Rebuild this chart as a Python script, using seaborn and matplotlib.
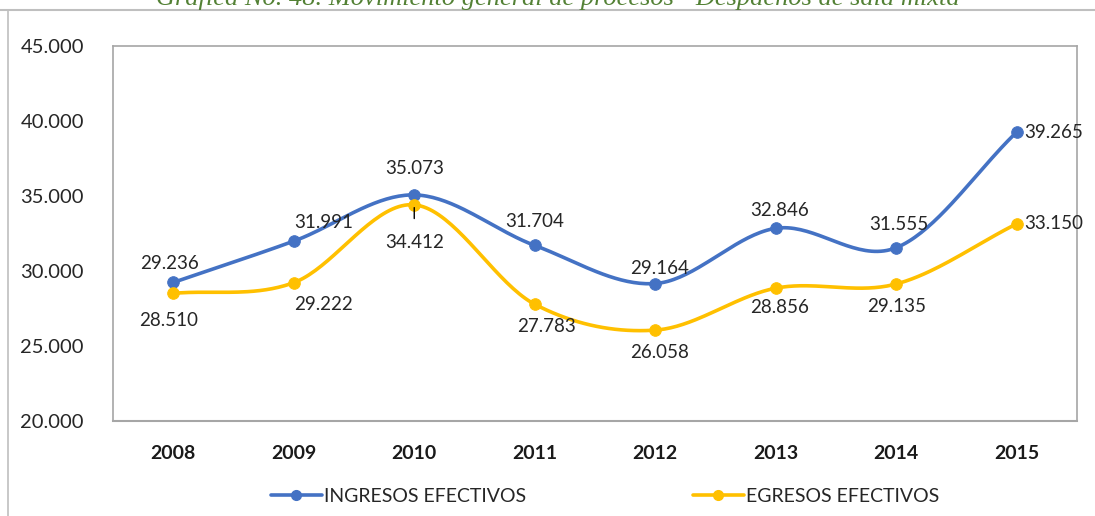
import numpy as np
import pandas as pd
import matplotlib
matplotlib.use("Agg")
import matplotlib.pyplot as plt
import seaborn as sns
from matplotlib.lines import Line2D

years = ["2008", "2009", "2010", "2011", "2012", "2013", "2014", "2015"]
ingresos = [29236, 31991, 35073, 31704, 29164, 32846, 31555, 39265]
egresos = [28510, 29222, 34412, 27783, 26058, 28856, 29135, 33150]
ing_labels = ["29.236", "31.991", "35.073", "31.704", "29.164", "32.846", "31.555", "39.265"]
egr_labels = ["28.510", "29.222", "34.412", "27.783", "26.058", "28.856", "29.135", "33.150"]
y_ticks = [20000, 25000, 30000, 35000, 40000, 45000]
y_ticklabels = ["20.000", "25.000", "30.000", "35.000", "40.000", "45.000"]

# label offsets in pixels (dx, dy), positive dy = up
ing_off = [(-4, 19), (30, 19), (0, 26), (0, 24), (4, 15), (4, 18), (3, 23), (7, 0)]
egr_off = [(-5, -27), (30, -22), (0, -38), (12, -22), (4, -22), (4, -19), (0, -23), (7, 0)]

BLUE = "#4472C4"
GOLD = "#FFC000"
GRAY = "#A6A6A6"


def catmull(xs, ys, n=40):
    # smooth curve through the points, like Excel "smoothed line"
    xs = np.asarray(xs, float)
    ys = np.asarray(ys, float)
    px = np.concatenate([[2 * xs[0] - xs[1]], xs, [2 * xs[-1] - xs[-2]]])
    py = np.concatenate([[2 * ys[0] - ys[1]], ys, [2 * ys[-1] - ys[-2]]])
    ox, oy = [], []
    t = np.linspace(0, 1, n)
    for i in range(1, len(px) - 2):
        for arr, out in ((px, ox), (py, oy)):
            p0, p1, p2, p3 = arr[i - 1], arr[i], arr[i + 1], arr[i + 2]
            seg = 0.5 * ((2 * p1) + (-p0 + p2) * t + (2 * p0 - 5 * p1 + 4 * p2 - p3) * t ** 2
                         + (-p0 + 3 * p1 - 3 * p2 + p3) * t ** 3)
            out.extend(seg)
    return np.array(ox), np.array(oy)


sns.set_style("white")
plt.rcParams["font.family"] = ["Lato", "DejaVu Sans"]

fig = plt.figure(figsize=(10.95, 5.16), dpi=100)
ax = fig.add_axes([113 / 1095, 95 / 516, 964 / 1095, 375 / 516])

x = np.arange(len(years))
for vals, color in ((ingresos, BLUE), (egresos, GOLD)):
    sx, sy = catmull(x, vals)
    sm = pd.DataFrame({"x": sx, "y": sy})
    sns.lineplot(data=sm, x="x", y="y", color=color, lw=2.6, sort=False, ax=ax, zorder=2)
    pts = pd.DataFrame({"x": x, "y": vals})
    sns.scatterplot(data=pts, x="x", y="y", color=color, s=70, edgecolor=color, ax=ax, zorder=3)

for i in range(len(years)):
    ha = "left" if i == len(years) - 1 else "center"
    dx, dy = ing_off[i]
    ax.annotate(ing_labels[i], (x[i], ingresos[i]), xytext=(dx, dy), textcoords="offset pixels",
                ha=ha, va="center", fontsize=13.5, color="#262626")
    dx, dy = egr_off[i]
    if i == 2:
        ax.annotate(egr_labels[i], (x[i], egresos[i]), xytext=(dx, dy), textcoords="offset pixels",
                    ha=ha, va="center", fontsize=13.5, color="#262626",
                    arrowprops=dict(arrowstyle="-", color="black", lw=1, shrinkA=9, shrinkB=2))
    else:
        ax.annotate(egr_labels[i], (x[i], egresos[i]), xytext=(dx, dy), textcoords="offset pixels",
                    ha=ha, va="center", fontsize=13.5, color="#262626")

ax.set_xlim(-0.5, len(years) - 0.5)
ax.set_ylim(20000, 45000)
ax.set_yticks(y_ticks)
ax.set_yticklabels(y_ticklabels, fontsize=14.5, color="#262626")
ax.set_xticks(x)
ax.set_xticklabels(years, fontsize=14, fontweight="bold", color="#1a1a1a")
ax.set_xticks(np.arange(-0.5, len(years), 1), minor=True)
ax.tick_params(axis="x", which="major", length=0, pad=17)
ax.tick_params(axis="x", which="minor", length=8, color=GRAY, width=1, direction="out")
ax.tick_params(axis="y", length=7, color=GRAY, width=1, direction="out", pad=14)
ax.set_xlabel("")
ax.set_ylabel("")
for sp in ax.spines.values():
    sp.set_visible(True)
    sp.set_color(GRAY)
    sp.set_linewidth(1.2)
ax.spines["bottom"].set_linewidth(1.5)

handles = [Line2D([0], [0], color=BLUE, lw=2.6, marker="o", ms=7),
           Line2D([0], [0], color=GOLD, lw=2.6, marker="o", ms=7)]
fig.legend(handles, ["INGRESOS EFECTIVOS", "EGRESOS EFECTIVOS"], loc="center",
           bbox_to_anchor=(605 / 1095, 1 - 496 / 516), ncol=2, frameon=False,
           fontsize=14, handlelength=2.6, columnspacing=8.6, handletextpad=0.1)

# chart frame and truncated caption
fig.add_artist(Line2D([0, 1], [1 - 10 / 516, 1 - 10 / 516], color="#BFBFBF", lw=1.5))
fig.add_artist(Line2D([8 / 1095, 8 / 1095], [0, 1 - 10 / 516], color="#BFBFBF", lw=1.2))
fig.text(558 / 1095, 1 - 5 / 516, "Gráfica No. 48. Movimiento general de procesos - Despachos de sala mixta",
         ha="center", va="baseline", fontsize=19, style="italic", color="#538135",
         family=["Liberation Serif", "DejaVu Serif"])

fig.savefig("out.png", dpi=100)
